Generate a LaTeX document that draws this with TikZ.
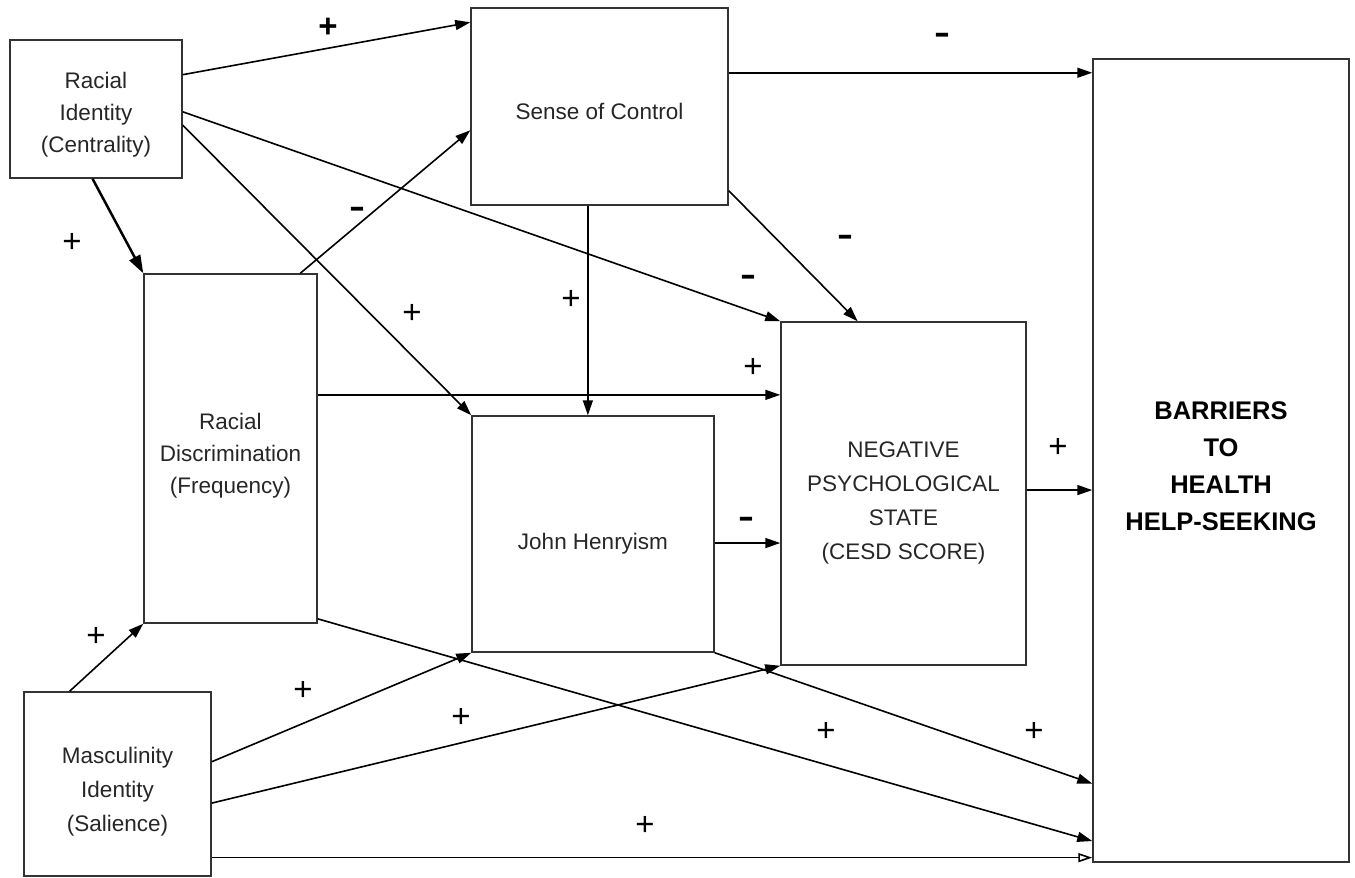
\documentclass[tikz,border=0pt]{standalone}
\usepackage{fontspec}
\setmainfont{Liberation Sans}
\usetikzlibrary{arrows.meta,calc}
\begin{document}
\begin{tikzpicture}[x=1pt,y=-1pt,
  box/.style={draw=black!80, line width=1.5pt, inner sep=0pt},
  txt/.style={align=center, inner sep=0pt, font=\fontsize{22.5}{32}\selectfont, text=black!85},
  arr/.style={line width=1.6pt, -{Triangle[length=15pt,width=10pt]}},
  openarr/.style={line width=1.6pt, -{Triangle[open,length=14pt,width=9pt]}},
  plus/.style={font=\fontsize{33}{33}\selectfont, inner sep=0pt},
  minus/.style={font=\bfseries\fontsize{32}{32}\selectfont, inner sep=0pt}]
\useasboundingbox (0,0) rectangle (1355,878);

% boxes
\node[box, minimum width=172pt, minimum height=138pt] (ri) at (96,109) {};
\node[box, minimum width=257pt, minimum height=197pt] (soc) at (599.5,106.5) {};
\node[box, minimum width=173pt, minimum height=349pt] (rd) at (230.5,448.5) {};
\node[box, minimum width=242pt, minimum height=236pt] (jh) at (593,534) {};
\node[box, minimum width=245pt, minimum height=343pt] (neg) at (903.5,493.5) {};
\node[box, minimum width=256pt, minimum height=803pt] (bar) at (1221,460.5) {};
\node[box, minimum width=187pt, minimum height=184pt] (mas) at (117.5,784) {};

% box texts
\node[txt] (riT) at ($(ri.center)+(0,6)$) {Racial\\Identity\\(Centrality)};
\node[txt] (socT) at ($(soc.center)+(0,4.5)$) {Sense of Control};
\node[txt] (rdT) at ($(rd.center)+(0,7.5)$) {Racial\\Discrimination\\(Frequency)};
\node[txt] (jhT) at ($(jh.center)+(0,10)$) {John Henryism};
\node[txt, font=\fontsize{22.5}{34}\selectfont] (negT) at ($(neg.center)+(0,9)$) {NEGATIVE\\PSYCHOLOGICAL\\STATE\\(CESD SCORE)};
\node[txt, font=\bfseries\fontsize{25.5}{37}\selectfont, text=black] (barT) at ($(bar.center)+(0,5.5)$) {BARRIERS\\TO\\HEALTH\\HELP-SEEKING};
\node[txt, font=\fontsize{22.5}{34}\selectfont] (masT) at ($(mas.center)+(0,8)$) {Masculinity\\Identity\\(Salience)};

% connection points
\coordinate (s1) at ($(soc.north east)!0.33!(soc.south east)$);
\coordinate (rdE) at ($(rd.north east)!0.347!(rd.south east)$);
\coordinate (jhE) at ($(jh.north east)!0.538!(jh.south east)$);
\coordinate (negE) at ($(neg.north east)!0.49!(neg.south east)$);
\coordinate (socB) at ($(soc.south west)!0.455!(soc.south east)$);
\coordinate (masE3) at ($(mas.north east)!0.897!(mas.south east)$);

% arrows
\draw[arr] ($(ri.north east)!0.254!(ri.south east)$) -- ($(soc.north west)!0.076!(soc.south west)$);
\draw[arr] ($(ri.north east)!0.52!(ri.south east)$) -- (neg.north west);
\draw[arr] ($(ri.north east)!0.616!(ri.south east)$) -- (jh.north west);
\draw[line width=2.5pt, -{Triangle[length=18pt,width=12pt]}] ($(ri.south west)!0.48!(ri.south east)$) -- (rd.north west);
\draw[arr] ($(rd.north west)!0.90!(rd.north east)$) -- ($(soc.north west)!0.62!(soc.south west)$);
\draw[arr] (s1) -- (s1 -| bar.west);
\draw[arr] ($(soc.north east)!0.924!(soc.south east)$) -- ($(neg.north west)!0.314!(neg.north east)$);
\draw[arr] (socB) -- (socB |- jh.north);
\draw[arr] (rdE) -- (rdE -| neg.west);
\draw[arr] (jhE) -- (jhE -| neg.west);
\draw[arr] (negE) -- (negE -| bar.west);
\draw[arr] ($(rd.north east)!0.986!(rd.south east)$) -- ($(bar.north west)!0.973!(bar.south west)$);
\draw[arr] (jh.south east) -- ($(bar.north west)!0.9016!(bar.south west)$);
\draw[arr] ($(mas.north west)!0.246!(mas.north east)$) -- (rd.south west);
\draw[arr] ($(mas.north east)!0.38!(mas.south east)$) -- (jh.south west);
\draw[arr] ($(mas.north east)!0.603!(mas.south east)$) -- (neg.south west);
\draw[openarr] (masE3) -- (masE3 -| bar.west);

% signs
\node[plus, font=\bfseries\fontsize{33}{33}\selectfont] (p1) at (328,28) {+};
\node[minus] (m1) at (942,38) {\scalebox{1.5}[1]{-}};
\node[plus] (p2) at (72,243) {+};
\node[minus] (m2) at (357,212) {\scalebox{1.5}[1]{-}};
\node[minus] (m3) at (845,240) {\scalebox{1.5}[1]{-}};
\node[minus] (m4) at (748,280) {\scalebox{1.5}[1]{-}};
\node[plus] (p3) at (571,300) {+};
\node[plus] (p4) at (412,314) {+};
\node[plus] (p5) at (753,368) {+};
\node[plus] (p6) at (1058,448) {+};
\node[minus] (m5) at (746,522) {\scalebox{1.5}[1]{-}};
\node[plus] (p7) at (96,637) {+};
\node[plus] (p8) at (303,691) {+};
\node[plus] (p9) at (461,718) {+};
\node[plus] (p10) at (826,732) {+};
\node[plus] (p11) at (1034,732) {+};
\node[plus] (p12) at (645,826) {+};
\end{tikzpicture}
\end{document}
